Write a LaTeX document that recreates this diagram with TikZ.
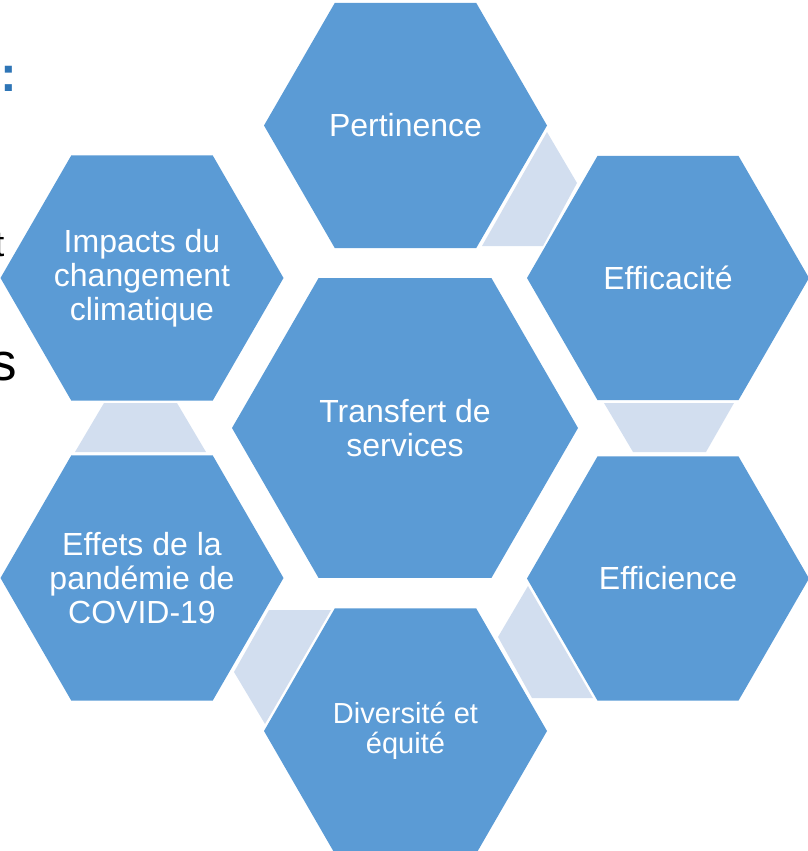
\documentclass[tikz,border=0pt]{standalone}
\usepackage{fontspec}
\setmainfont{Liberation Sans}
\usetikzlibrary{shapes.geometric}
\definecolor{hexblue}{HTML}{5B9BD5}
\definecolor{hexlight}{HTML}{D2DEEF}
\definecolor{titleblue}{HTML}{2E75B6}
\begin{document}
\begin{tikzpicture}[x=1pt,y=-1pt,
  hexnode/.style={regular polygon, regular polygon sides=6, fill=hexblue, draw=none,
    inner sep=0pt, outer sep=0pt},
  hextext/.style={text=white, align=center, inner sep=0pt, outer sep=0pt,
    font=\fontsize{32}{34}\selectfont},
  linkshape/.style={fill=hexlight, draw=none},
  bgtext/.style={inner sep=0pt, outer sep=0pt, anchor=base west}]
\useasboundingbox (0,0) rectangle (808,851);
\clip (0,0) rectangle (808,851);

% fragments of slide text behind the diagram
\node[bgtext, font=\bfseries\fontsize{50}{50}\selectfont, text=titleblue] (colon) at (1,91) {:};
\node[bgtext, font=\fontsize{36}{36}\selectfont] (tfrag) at (-5.5,256) {t};
\node[bgtext, font=\fontsize{53}{53}\selectfont] (sfrag) at (-9.5,380) {s};

% light linking shapes
\fill[linkshape] (547,132) -- (577,183) -- (543,246) -- (482,246) -- cycle;
\fill[linkshape] (604,403) -- (734,403) -- (706,452) -- (633,452) -- cycle;
\fill[linkshape] (528,586) -- (498,637) -- (532,698) -- (593,698) -- cycle;
\fill[linkshape] (269,610) -- (331,610) -- (265,724) -- (234,672) -- cycle;
\fill[linkshape] (104,403) -- (177,403) -- (206,452) -- (75,452) -- cycle;

% hexagons
\node[hexnode, minimum size=283pt] (pert) at (405.5,125.5) {};
\node[hexnode, minimum size=282pt] (effc) at (668,278) {};
\node[hexnode, minimum size=282pt] (effi) at (668,578.5) {};
\node[hexnode, minimum size=283pt] (div) at (405.5,731) {};
\node[hexnode, minimum size=283pt] (covid) at (142,578) {};
\node[hexnode, minimum size=283pt] (clim) at (142,278) {};
\node[hexnode, minimum size=346pt] (trans) at (405,428) {};

% texts
\node[hextext] (pert-t) at (pert.center) {Pertinence};
\node[hextext] (effc-t) at (effc.center) {Efficacité};
\node[hextext] (effi-t) at (effi.center) {Efficience};
\node[hextext, font=\fontsize{29}{30}\selectfont] (div-t) at (div.center) {Diversité et\\équité};
\node[hextext] (covid-t) at (covid.center) {Effets de la\\pandémie de\\COVID-19};
\node[hextext] (clim-t) at (clim.center) {Impacts du\\changement\\climatique};
\node[hextext] (trans-t) at (trans.center) {Transfert de\\services};
\end{tikzpicture}
\end{document}
